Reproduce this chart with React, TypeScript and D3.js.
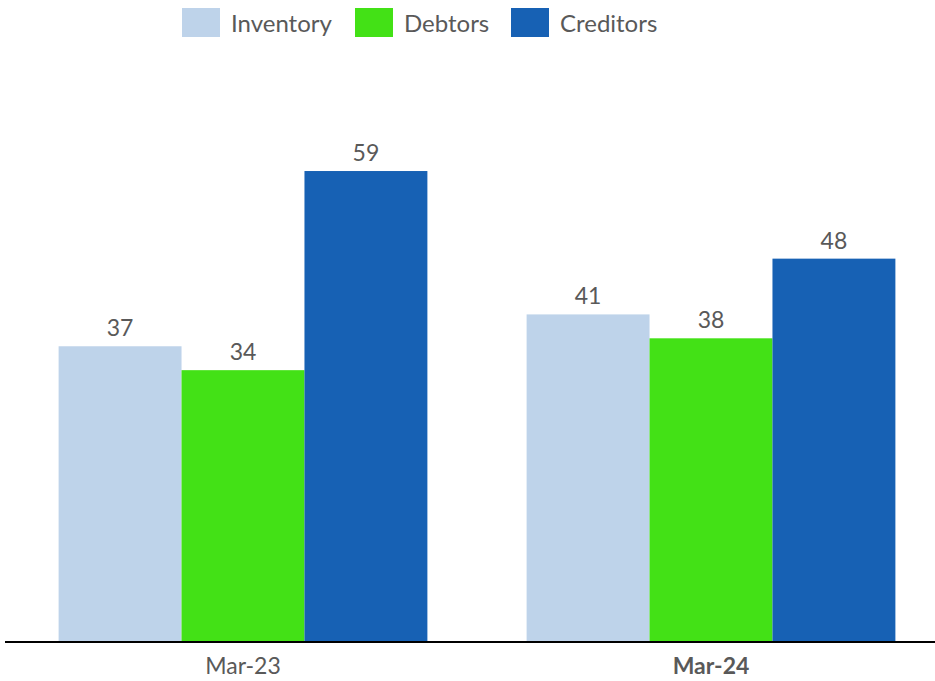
import { scaleBand, scaleLinear, scaleOrdinal } from "d3";

const periods = ["Mar-23", "Mar-24"];
const seriesNames = ["Inventory", "Debtors", "Creditors"];
const inventory = [37, 41];
const debtors = [34, 38];
const creditors = [59, 48];
const colors = ["#bed3ea", "#43e116", "#1761b4"];

const width = 935;
const height = 681;
const font = "Lato, 'Open Sans', sans-serif";
const textColor = "#595959";

export default function App() {
  const values = [inventory, debtors, creditors];

  const x0 = scaleBand<string>()
    .domain(periods)
    .range([9, 945])
    .paddingInner(0.212)
    .paddingOuter(0.106);

  const x1 = scaleBand<string>().domain(seriesNames).range([0, x0.bandwidth()]);

  const y = scaleLinear().domain([0, 70]).range([641, 83.4]);

  const color = scaleOrdinal<string, string>().domain(seriesNames).range(colors);

  const legendX = [182, 355, 511];

  return (
    <svg
      width={width}
      height={height}
      style={{ position: "absolute", left: 0, top: 0 }}
      fontFamily={font}
    >
      <g>
        {seriesNames.map((s, i) => (
          <g key={s} transform={`translate(${legendX[i]},8)`}>
            <rect width={38} height={29} fill={color(s)} />
            <text x={49} y={24} fontSize={24} fill={textColor}>
              {s}
            </text>
          </g>
        ))}
      </g>

      {periods.map((p, pi) => (
        <g key={p} transform={`translate(${x0(p)},0)`}>
          {seriesNames.map((s, si) => {
            const v = values[si][pi];
            return (
              <g key={s}>
                <rect
                  x={x1(s)}
                  y={y(v)}
                  width={x1.bandwidth()}
                  height={y(0) - y(v)}
                  fill={color(s)}
                />
                <text
                  x={(x1(s) ?? 0) + x1.bandwidth() / 2}
                  y={y(v) - 10}
                  textAnchor="middle"
                  fontSize={23}
                  fill={textColor}
                >
                  {v}
                </text>
              </g>
            );
          })}
        </g>
      ))}

      <line x1={5} x2={935} y1={y(0) + 1} y2={y(0) + 1} stroke="#000" strokeWidth={2} />

      {periods.map((p, i) => (
        <text
          key={p}
          x={(x0(p) ?? 0) + x0.bandwidth() / 2}
          y={674}
          textAnchor="middle"
          fontSize={23}
          fontWeight={i === 1 ? "bold" : "normal"}
          fill={textColor}
        >
          {p}
        </text>
      ))}
    </svg>
  );
}
